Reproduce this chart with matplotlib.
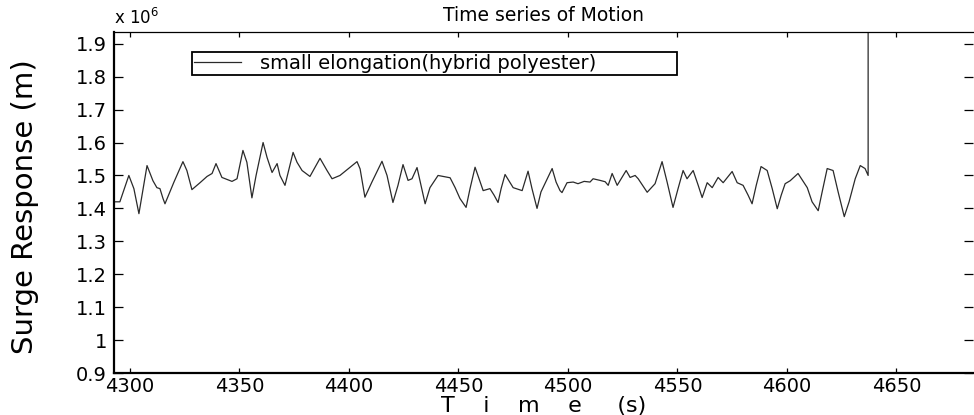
import matplotlib
matplotlib.use("Agg")
import matplotlib.pyplot as plt

# Surge response samples (time in s, response in 1e6 m)
time_s = [
    4292.8, 4295.4, 4299.5, 4301.8, 4304.1, 4307.8, 4310.5, 4312.3, 4313.7, 4315.1,
    4316.0, 4320.1, 4324.2, 4326.0, 4328.3, 4332.0, 4335.2, 4337.5, 4339.3, 4342.0,
    4346.6, 4348.9, 4351.6, 4353.4, 4355.7, 4357.6, 4360.8, 4362.6, 4364.9, 4367.2,
    4368.5, 4370.8, 4374.5, 4376.3, 4378.6, 4382.2, 4386.8, 4390.0, 4392.3, 4395.9,
    4399.6, 4403.7, 4405.1, 4407.3, 4410.5, 4415.1, 4417.4, 4420.1, 4422.4, 4424.7,
    4427.0, 4428.8, 4431.1, 4432.9, 4434.8, 4437.0, 4440.7, 4446.2, 4448.5, 4450.7,
    4453.5, 4455.3, 4457.6, 4459.4, 4461.3, 4464.4, 4466.3, 4468.1, 4469.5, 4471.3,
    4475.0, 4479.1, 4481.8, 4483.6, 4485.9, 4487.7, 4492.8, 4494.6, 4496.4, 4497.3,
    4499.6, 4502.4, 4504.6, 4507.4, 4510.1, 4511.5, 4514.7, 4517.0, 4518.4, 4520.2,
    4522.5, 4526.6, 4528.4, 4530.7, 4532.1, 4536.2, 4539.8, 4543.0, 4545.3, 4548.0,
    4550.3, 4552.6, 4554.4, 4557.2, 4559.5, 4561.3, 4563.6, 4565.9, 4568.6, 4570.9,
    4575.0, 4577.3, 4580.0, 4582.3, 4584.1, 4586.0, 4588.2, 4591.0, 4593.3, 4595.6,
    4597.4, 4599.2, 4601.5, 4605.1, 4609.3, 4611.5, 4614.3, 4616.1, 4618.4, 4621.1,
    4623.4, 4626.2, 4628.4, 4631.2, 4633.5, 4635.7, 4637.1, 4637.1,
]
surge = [
    1.42, 1.42, 1.50, 1.46, 1.384, 1.53, 1.484, 1.463, 1.46, 1.43,
    1.414, 1.48, 1.542, 1.515, 1.457, 1.478, 1.497, 1.506, 1.536, 1.494,
    1.482, 1.49, 1.576, 1.54, 1.432, 1.50, 1.60, 1.555, 1.509, 1.536,
    1.50, 1.47, 1.57, 1.54, 1.515, 1.497, 1.552, 1.515, 1.49, 1.50,
    1.52, 1.542, 1.52, 1.434, 1.48, 1.543, 1.50, 1.418, 1.47, 1.533,
    1.485, 1.49, 1.524, 1.47, 1.414, 1.463, 1.50, 1.493, 1.463, 1.43,
    1.403, 1.46, 1.525, 1.49, 1.454, 1.46, 1.44, 1.418, 1.46, 1.503,
    1.463, 1.454, 1.513, 1.46, 1.40, 1.45, 1.521, 1.48, 1.454, 1.448,
    1.478, 1.48, 1.475, 1.482, 1.48, 1.49, 1.485, 1.481, 1.47, 1.506,
    1.47, 1.515, 1.494, 1.50, 1.49, 1.449, 1.475, 1.542, 1.48, 1.403,
    1.46, 1.515, 1.49, 1.515, 1.47, 1.433, 1.478, 1.463, 1.494, 1.478,
    1.512, 1.478, 1.47, 1.44, 1.414, 1.47, 1.527, 1.515, 1.46, 1.399,
    1.44, 1.475, 1.484, 1.506, 1.463, 1.42, 1.393, 1.45, 1.521, 1.515,
    1.45, 1.375, 1.42, 1.49, 1.53, 1.521, 1.50, 5.0,
]

x_ticks = [4300, 4350, 4400, 4450, 4500, 4550, 4600, 4650]
y_ticks = [0.9, 1.0, 1.1, 1.2, 1.3, 1.4, 1.5, 1.6, 1.7, 1.8, 1.9]
y_tick_labels = ["0.9", "1", "1.1", "1.2", "1.3", "1.4", "1.5", "1.6", "1.7", "1.8", "1.9"]

plt.rcParams['font.family'] = ['DejaVu Sans']

fig = plt.figure(figsize=(9.74, 4.15), dpi=100)
ax = fig.add_axes([0.117, 0.101, 0.882, 0.822])

ax.plot(time_s, surge, color="#2a2a2a", linewidth=0.9,
        label="small elongation(hybrid polyester)")

ax.set_xlim(4292.7, 4685)
ax.set_ylim(0.9, 1.9357)
ax.set_xticks(x_ticks)
ax.set_yticks(y_ticks)
ax.set_yticklabels(y_tick_labels)

# axis look: thick left/bottom, thin top, no right line
ax.spines['left'].set_linewidth(1.6)
ax.spines['bottom'].set_linewidth(1.6)
ax.spines['top'].set_linewidth(0.9)
ax.spines['right'].set_visible(False)
ax.tick_params(axis='x', direction='in', length=3.5, width=0.9, top=True,
               labelsize=14, pad=3)
ax.tick_params(axis='y', direction='in', length=6.5, width=0.9, right=True,
               labelsize=14, pad=5)

ax.set_title("Time series of Motion", fontsize=13.5, pad=8)
ax.text(0.0, 1.012, "x 10$^6$", transform=ax.transAxes, fontsize=12,
        ha='left', va='bottom')

fig.text(25 / 974, 1 - 207 / 415, "Surge Response (m)", rotation=90,
         fontsize=21, ha='center', va='center')
fig.text(544 / 974, 1 - 412 / 415, "T    i    m    e     (s)", fontsize=16,
         ha='center', va='baseline')

leg = ax.legend(loc='upper left', bbox_to_anchor=(0.0908, 0.881, 0.565, 0.06),
                mode='expand', borderaxespad=0, fontsize=14, fancybox=False,
                borderpad=0.1, handlelength=2.4, handletextpad=1.0)
leg.get_frame().set_edgecolor('black')
leg.get_frame().set_linewidth(1.3)
leg.get_frame().set_alpha(1)

fig.savefig("out.png", dpi=100)
